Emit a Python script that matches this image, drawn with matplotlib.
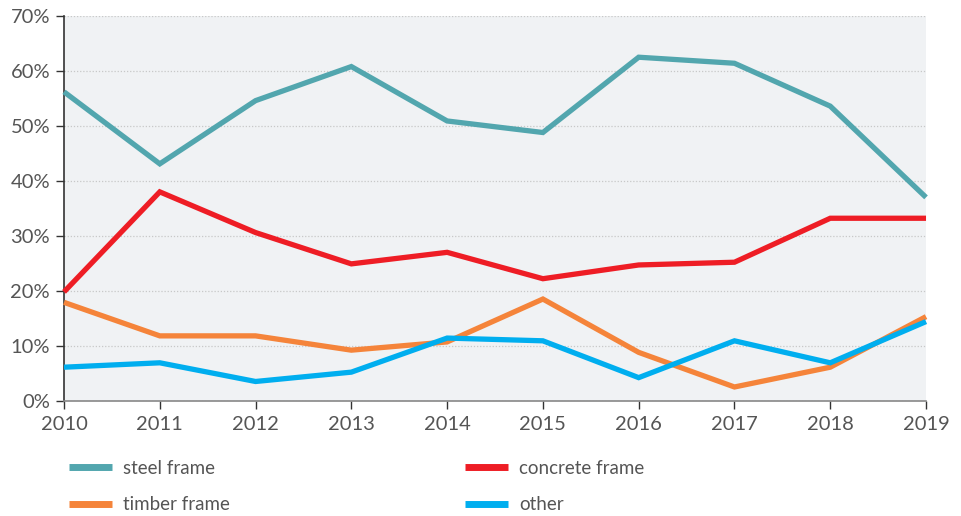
import matplotlib
matplotlib.use("Agg")
import matplotlib.pyplot as plt
from matplotlib.ticker import FuncFormatter

years = [2010, 2011, 2012, 2013, 2014, 2015, 2016, 2017, 2018, 2019]
steel_frame = [56.2, 43.1, 54.6, 60.8, 50.9, 48.8, 62.5, 61.4, 53.6, 37.0]
concrete_frame = [19.8, 38.0, 30.6, 24.9, 27.0, 22.2, 24.7, 25.2, 33.2, 33.2]
timber_frame = [17.9, 11.8, 11.8, 9.2, 10.7, 18.5, 8.8, 2.5, 6.1, 15.3]
other = [6.1, 6.9, 3.5, 5.2, 11.4, 10.9, 4.2, 10.9, 6.9, 14.4]
y_ticks = [0, 10, 20, 30, 40, 50, 60, 70]

series = [
    ("steel frame", steel_frame, "#52a6ae"),
    ("concrete frame", concrete_frame, "#ee1d25"),
    ("timber frame", timber_frame, "#f5843a"),
    ("other", other, "#00aeef"),
]

plt.rcParams['font.family'] = ['Lato', 'DejaVu Sans']

fig = plt.figure(figsize=(9.61, 5.16), dpi=100)
ax = fig.add_axes([0.0666, 0.2234, 0.897, 0.7456])
ax.set_facecolor("#f0f2f4")

handles = {}
for name, vals, col in series:
    ln, = ax.plot(years, vals, color=col, lw=3.8, solid_capstyle='butt',
                  solid_joinstyle='miter', clip_on=False, zorder=3, label=name)
    handles[name] = ln

ax.set_xlim(2010, 2019)
ax.set_ylim(0, 70)
ax.set_xticks(years)
ax.set_yticks(y_ticks)
ax.yaxis.set_major_formatter(FuncFormatter(lambda v, p: f"{int(v)}%"))
ax.grid(axis='y', color='#c8c8c8', linestyle=(0, (1, 1.5)), lw=0.9, zorder=0)
ax.grid(axis='x', visible=False)

for s in ['top', 'right']:
    ax.spines[s].set_visible(False)
ax.spines['left'].set_color('#333333')
ax.spines['left'].set_linewidth(1.2)
ax.spines['bottom'].set_color('#888888')
ax.spines['bottom'].set_linewidth(1.2)
ax.tick_params(axis='both', colors='#333333', labelcolor='#555555',
               labelsize=14.5, length=6, width=1)
ax.tick_params(axis='x', pad=5)
ax.tick_params(axis='y', pad=4)

leg_kw = dict(loc='upper left', frameon=False, fontsize=13.5, labelcolor='#555555',
              handlelength=2.3, handletextpad=0.6, labelspacing=1.05)
leg1 = fig.legend([handles["steel frame"], handles["timber frame"]],
                  ["steel frame", "timber frame"],
                  bbox_to_anchor=(0.054, 0.142), **leg_kw)
leg2 = fig.legend([handles["concrete frame"], handles["other"]],
                  ["concrete frame", "other"],
                  bbox_to_anchor=(0.466, 0.142), **leg_kw)
for leg in (leg1, leg2):
    for h in leg.legend_handles:
        h.set_linewidth(5)

fig.savefig("out.png", dpi=100)
